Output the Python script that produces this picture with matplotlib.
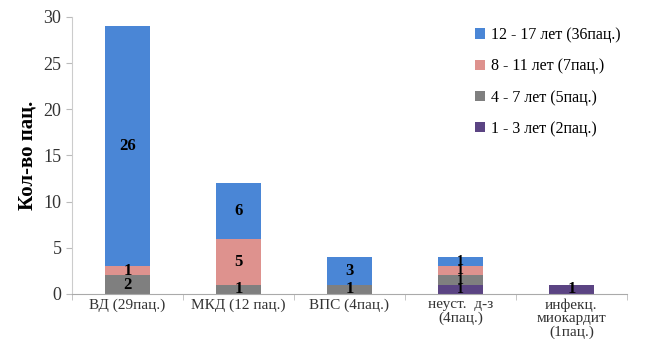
import matplotlib.pyplot as plt
import numpy as np

categories = ['ВД (29пац.)', 'МКД (12 пац.)', 'ВПС (4пац.)',
              'неуст.  д-з\n(4пац.)', 'инфекц.\nмиокардит\n(1пац.)']
age_1_3 = [0, 0, 0, 1, 1]
age_4_7 = [2, 1, 1, 1, 0]
age_8_11 = [1, 5, 0, 1, 0]
age_12_17 = [26, 6, 3, 1, 0]

series = [
    ('1 - 3 лет (2пац.)', age_1_3, '#5b4483'),
    ('4 - 7 лет (5пац.)', age_4_7, '#7f7f7f'),
    ('8 - 11 лет (7пац.)', age_8_11, '#de928e'),
    ('12 - 17 лет (36пац.)', age_12_17, '#4a86d6'),
]

plt.rcParams['font.family'] = ['Liberation Serif', 'DejaVu Serif']

fig = plt.figure(figsize=(6.47, 3.39), dpi=100)
ax = fig.add_axes([0.111, 0.133, 0.858, 0.817])

x = np.arange(len(categories))
bottom = np.zeros(len(categories))
handles = []
for label, vals, color in series:
    vals = np.array(vals, dtype=float)
    b = ax.bar(x, vals, 0.4, bottom=bottom, color=color, label=label)
    handles.append(b)
    for xi, v, bt in zip(x, vals, bottom):
        if v > 0:
            fs = 10 if xi == 3 else 12
            ax.text(xi, bt + v / 2, f'{int(v)}', ha='center', va='center',
                    fontsize=fs, fontweight='bold', color='black')
    bottom += vals

ax.set_xlim(-0.5, len(categories) - 0.5)
ax.set_ylim(0, 30)
ax.set_yticks(range(0, 31, 5))
ax.tick_params(axis='y', labelsize=13, colors='#333333', length=4,
               color='#bbbbbb')
ax.set_xticks(x)
ax.set_xticklabels(categories, fontsize=11, color='#333333', linespacing=1.05)
ax.tick_params(axis='x', length=0, pad=3)
ax.set_xticks(np.arange(-0.5, len(categories)), minor=True)
ax.tick_params(axis='x', which='minor', length=4, color='#bbbbbb')

for side in ['top', 'right']:
    ax.spines[side].set_visible(False)
ax.spines['left'].set_color('#cccccc')
ax.spines['bottom'].set_color('#aaaaaa')

ax.set_ylabel('Кол-во пац.', fontsize=15, fontweight='bold', labelpad=4)

ax.legend(handles[::-1], [s[0] for s in series][::-1], loc='upper right',
          bbox_to_anchor=(1.015, 1.015), frameon=False, fontsize=11.5,
          handlelength=0.6, handleheight=0.6, handletextpad=0.4,
          labelspacing=0.95)

fig.savefig('out.png', dpi=100)
